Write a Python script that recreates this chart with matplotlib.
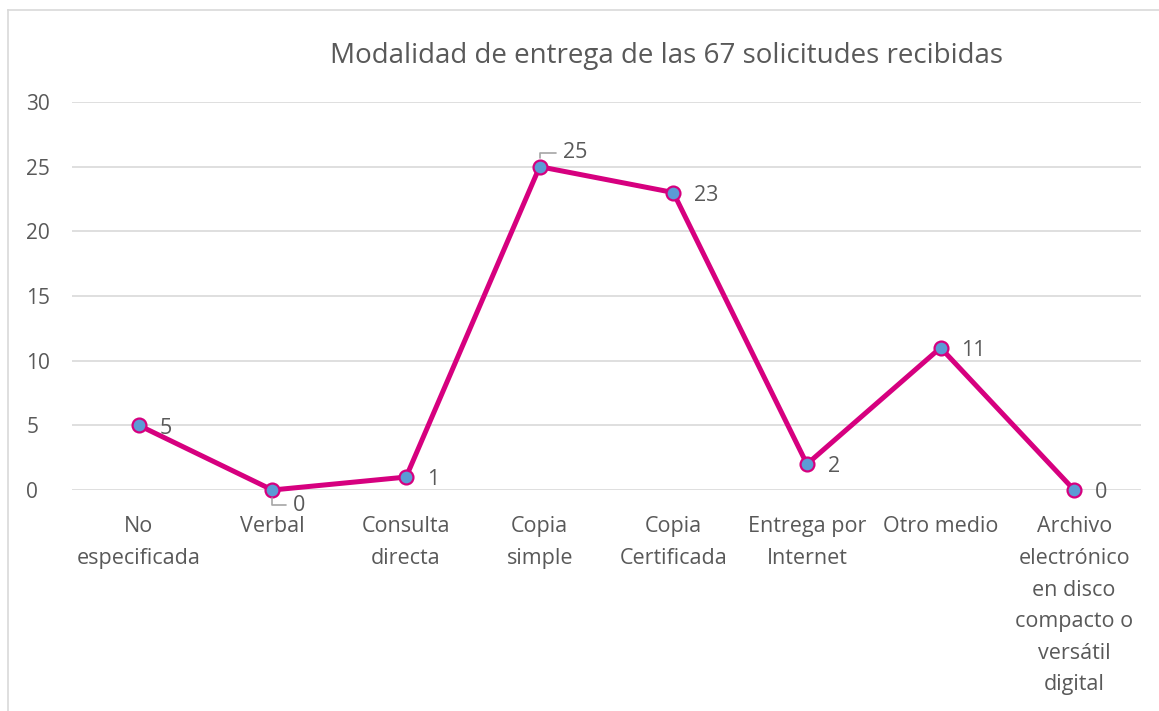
import matplotlib.pyplot as plt
from matplotlib.lines import Line2D

categorias = ["No\nespecificada", "Verbal", "Consulta\ndirecta", "Copia\nsimple",
              "Copia\nCertificada", "Entrega por\nInternet", "Otro medio",
              "Archivo\nelectrónico\nen disco\ncompacto o\nversátil\ndigital"]
valores = [5, 0, 1, 25, 23, 2, 11, 0]
titulo = "Modalidad de entrega de las 67 solicitudes recibidas"

gris = "#595959"
plt.rcParams['font.family'] = ['Open Sans', 'DejaVu Sans']

fig = plt.figure(figsize=(11.59, 7.11), dpi=100)
ax = fig.add_axes([72/1159, 1 - 490/711, (1141 - 72)/1159, (490 - 102)/711])

x = list(range(len(valores)))
ax.plot(x, valores, color="#D6007F", linewidth=3.6, marker="o", markersize=10,
        markerfacecolor="#5B9BD5", markeredgecolor="#D6007F", markeredgewidth=1.6,
        zorder=3, clip_on=False)

ax.set_xlim(-0.5, len(valores) - 0.5)
ax.set_ylim(0, 30)
ax.set_yticks(range(0, 31, 5))
ax.set_xticks(x)
ax.set_xticklabels(categorias, linespacing=1.66)
ax.grid(axis="y", color="#D9D9D9", linewidth=1.2)
ax.set_axisbelow(True)
for s in ax.spines.values():
    s.set_visible(False)
ax.tick_params(axis="both", length=0, labelsize=15, colors=gris)
ax.tick_params(axis="x", labelsize=15.5, pad=19)
ax.tick_params(axis="y", pad=33)
for t in ax.get_yticklabels():
    t.set_horizontalalignment("left")

# etiquetas de datos
for i, v in enumerate(valores):
    if i == 1:
        ax.annotate(str(v), xy=(i, v), xytext=(15, -11), textcoords="offset points",
                    ha="left", va="center", fontsize=15.5, color=gris,
                    arrowprops=dict(arrowstyle="-", color="#A6A6A6", lw=1.2,
                                    connectionstyle="angle,angleA=0,angleB=90,rad=0",
                                    shrinkA=3, shrinkB=6))
    elif i == 3:
        ax.annotate(str(v), xy=(i, v), xytext=(17, 10), textcoords="offset points",
                    ha="left", va="center", fontsize=15.5, color=gris,
                    arrowprops=dict(arrowstyle="-", color="#A6A6A6", lw=1.2,
                                    connectionstyle="angle,angleA=0,angleB=90,rad=0",
                                    shrinkA=3, shrinkB=6))
    else:
        ax.annotate(str(v), xy=(i, v), xytext=(15, -2), textcoords="offset points",
                    ha="left", va="center", fontsize=15.5, color=gris)

fig.text(667/1159, 1 - 56/711, titulo, ha="center", va="center", fontsize=20, color=gris)

# borde del área del gráfico
fig.add_artist(Line2D([7.5/1159, 7.5/1159], [0, 1 - 10/711], color="#D9D9D9", lw=1.2))
fig.add_artist(Line2D([7.5/1159, 1], [1 - 10/711, 1 - 10/711], color="#D9D9D9", lw=1.2))

fig.savefig("out.png", dpi=100)
